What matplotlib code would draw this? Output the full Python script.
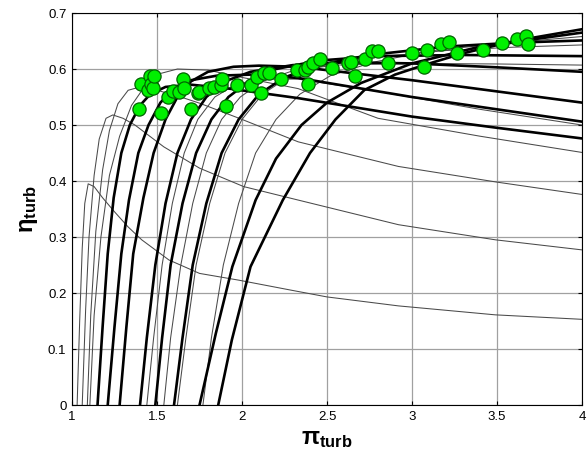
import matplotlib
matplotlib.use("Agg")
import matplotlib.pyplot as plt

plt.rcParams['font.family'] = ['Liberation Sans', 'DejaVu Sans']
plt.rcParams['mathtext.fontset'] = 'custom'
plt.rcParams['mathtext.rm'] = 'Liberation Sans'
plt.rcParams['mathtext.bf'] = 'Liberation Sans:bold'
plt.rcParams['mathtext.it'] = 'Liberation Sans:italic'

# ---- thin (gray) speed lines ----
A_X = [1.03, 1.045, 1.06, 1.075, 1.095, 1.13, 1.18, 1.25, 1.33, 1.41, 1.57, 1.75, 1.98, 2.29, 2.50, 2.92, 3.49, 4.0]
A_Y = [0.0, 0.15, 0.28, 0.36, 0.395, 0.39, 0.37, 0.345, 0.318, 0.295, 0.259, 0.235, 0.223, 0.205, 0.193, 0.177, 0.161, 0.153]
B_X = [1.06, 1.08, 1.10, 1.13, 1.16, 1.20, 1.24, 1.30, 1.37, 1.54, 1.75, 2.01, 2.33, 2.92, 3.49, 4.0]
B_Y = [0.0, 0.17, 0.30, 0.41, 0.475, 0.512, 0.518, 0.512, 0.50, 0.461, 0.423, 0.39, 0.366, 0.322, 0.295, 0.277]
C_X = [1.09, 1.11, 1.14, 1.18, 1.22, 1.27, 1.33, 1.40, 1.50, 1.62, 1.75, 2.0, 2.33, 2.92, 3.5, 4.0]
C_Y = [0.0, 0.16, 0.31, 0.42, 0.49, 0.538, 0.562, 0.568, 0.562, 0.552, 0.539, 0.51, 0.47, 0.426, 0.398, 0.376]
D_X = [1.105, 1.13, 1.17, 1.22, 1.28, 1.35, 1.43, 1.52, 1.62, 1.8, 2.0, 2.33, 2.8, 3.4, 4.0]
D_Y = [0.0, 0.16, 0.30, 0.41, 0.48, 0.535, 0.57, 0.592, 0.60, 0.598, 0.585, 0.565, 0.512, 0.48, 0.451]
E_X = [1.44, 1.48, 1.53, 1.59, 1.66, 1.74, 1.84, 1.96, 2.1, 2.33, 2.8, 3.4, 4.0]
E_Y = [0.0, 0.12, 0.25, 0.36, 0.45, 0.51, 0.55, 0.572, 0.582, 0.582, 0.56, 0.528, 0.500]
F_X = [1.54, 1.58, 1.64, 1.71, 1.79, 1.88, 1.99, 2.12, 2.3, 2.55, 3.0, 3.5, 4.0]
F_Y = [0.0, 0.12, 0.25, 0.36, 0.45, 0.51, 0.55, 0.578, 0.597, 0.607, 0.61, 0.609, 0.607]
G_X = [1.62, 1.67, 1.73, 1.81, 1.90, 2.0, 2.12, 2.27, 2.47, 2.75, 3.2, 3.6, 4.0]
G_Y = [0.0, 0.12, 0.25, 0.36, 0.45, 0.51, 0.555, 0.585, 0.605, 0.62, 0.633, 0.639, 0.643]
H_X = [1.77, 1.82, 1.89, 1.98, 2.08, 2.2, 2.34, 2.52, 2.77, 3.1, 3.5, 4.0]
H_Y = [0.0, 0.12, 0.25, 0.36, 0.45, 0.51, 0.555, 0.588, 0.612, 0.632, 0.645, 0.658]

# ---- thick (black) speed lines ----
T1_X = [1.15, 1.18, 1.21, 1.245, 1.29, 1.34, 1.40, 1.46, 1.55, 1.7, 1.9, 2.33, 3.0, 3.5, 4.0]
T1_Y = [0.0, 0.14, 0.27, 0.37, 0.45, 0.50, 0.535, 0.555, 0.568, 0.572, 0.566, 0.548, 0.515, 0.495, 0.476]
T2_X = [1.21, 1.25, 1.29, 1.335, 1.39, 1.45, 1.52, 1.60, 1.7, 1.85, 2.05, 2.33, 3.0, 3.5, 4.0]
T2_Y = [0.0, 0.14, 0.27, 0.366, 0.45, 0.50, 0.54, 0.565, 0.58, 0.588, 0.59, 0.584, 0.55, 0.528, 0.506]
T3_X = [1.28, 1.32, 1.36, 1.42, 1.48, 1.55, 1.62, 1.70, 1.8, 1.95, 2.1, 2.33, 3.0, 3.5, 4.0]
T3_Y = [0.0, 0.14, 0.27, 0.37, 0.45, 0.51, 0.55, 0.578, 0.595, 0.604, 0.606, 0.604, 0.58, 0.56, 0.54]
T4_X = [1.40, 1.44, 1.49, 1.55, 1.62, 1.70, 1.79, 1.9, 2.05, 2.3, 2.6, 3.0, 3.5, 4.0]
T4_Y = [0.0, 0.12, 0.25, 0.36, 0.45, 0.51, 0.55, 0.578, 0.595, 0.607, 0.612, 0.61, 0.603, 0.595]
T5_X = [1.49, 1.53, 1.58, 1.65, 1.73, 1.82, 1.92, 2.05, 2.2, 2.45, 2.8, 3.3, 4.0]
T5_Y = [0.0, 0.12, 0.25, 0.36, 0.45, 0.51, 0.55, 0.58, 0.60, 0.615, 0.623, 0.625, 0.623]
T6_X = [1.60, 1.65, 1.71, 1.79, 1.88, 1.98, 2.1, 2.25, 2.45, 2.75, 3.2, 3.6, 4.0]
T6_Y = [0.0, 0.12, 0.25, 0.36, 0.45, 0.51, 0.555, 0.585, 0.607, 0.625, 0.64, 0.647, 0.651]
T7_X = [1.75, 1.846, 1.943, 2.08, 2.2, 2.35, 2.5, 2.7, 3.0, 3.4, 4.0]
T7_Y = [0.0, 0.128, 0.247, 0.366, 0.44, 0.50, 0.54, 0.575, 0.61, 0.64, 0.665]
T8_X = [1.86, 1.94, 2.05, 2.24, 2.40, 2.55, 2.72, 2.9, 3.07, 3.3, 3.6, 4.0]
T8_Y = [0.0, 0.116, 0.247, 0.366, 0.45, 0.51, 0.5625, 0.59, 0.607, 0.628, 0.65, 0.671]

# ---- operating points (green markers) ----
MK_X = [1.392, 1.408, 1.446, 1.456, 1.466, 1.475, 1.480, 1.524, 1.563, 1.593, 1.632, 1.651,
        1.661, 1.700, 1.739, 1.749, 1.807, 1.836, 1.875, 1.885, 1.905, 1.973, 2.051, 2.09,
        2.109, 2.129, 2.158, 2.232, 2.323, 2.372, 2.386, 2.39, 2.42, 2.46, 2.528, 2.622,
        2.641, 2.665, 2.723, 2.766, 2.80, 2.86, 3.0, 3.07, 3.09, 3.171, 3.22, 3.265,
        3.415, 3.532, 3.62, 3.668, 3.682]
MK_Y = [0.528, 0.574, 0.5625, 0.5875, 0.574, 0.5655, 0.5875, 0.522, 0.5505, 0.561, 0.5595, 0.5815,
        0.5655, 0.528, 0.5565, 0.5595, 0.5655, 0.568, 0.571, 0.5815, 0.534, 0.571, 0.571, 0.586,
        0.558, 0.592, 0.593, 0.5815, 0.598, 0.599, 0.574, 0.604, 0.611, 0.617, 0.602, 0.611,
        0.612, 0.5875, 0.617, 0.633, 0.633, 0.610, 0.629, 0.604, 0.634, 0.644, 0.649, 0.628,
        0.634, 0.646, 0.653, 0.659, 0.644]

X_TICKS = [1, 1.5, 2, 2.5, 3, 3.5, 4]
X_TICK_LABELS = ['1', '1.5', '2', '2.5', '3', '3.5', '4']
Y_TICKS = [0, 0.1, 0.2, 0.3, 0.4, 0.5, 0.6, 0.7]
Y_TICK_LABELS = ['0', '0.1', '0.2', '0.3', '0.4', '0.5', '0.6', '0.7']

thin_curves = [(A_X, A_Y), (B_X, B_Y), (C_X, C_Y), (D_X, D_Y), (E_X, E_Y),
               (F_X, F_Y), (G_X, G_Y), (H_X, H_Y)]
thick_curves = [(T1_X, T1_Y), (T2_X, T2_Y), (T3_X, T3_Y), (T4_X, T4_Y),
                (T5_X, T5_Y), (T6_X, T6_Y), (T7_X, T7_Y), (T8_X, T8_Y)]

fig = plt.figure(figsize=(5.87, 4.68), dpi=100)
ax = fig.add_axes([0.1227, 0.1346, 0.8688, 0.8376])

for xs, ys in thin_curves:
    ax.plot(xs, ys, color='#4a4a4a', lw=0.75, zorder=2)
for xs, ys in thick_curves:
    ax.plot(xs, ys, color='black', lw=1.9, zorder=3)

ax.plot(MK_X, MK_Y, linestyle='none', marker='o', ms=9.5,
        markerfacecolor='#00f000', markeredgecolor='#006400', markeredgewidth=0.9, zorder=4)

ax.set_xlim(1, 4)
ax.set_ylim(0, 0.7)
ax.set_xticks(X_TICKS)
ax.set_xticklabels(X_TICK_LABELS)
ax.set_yticks(Y_TICKS)
ax.set_yticklabels(Y_TICK_LABELS)
ax.grid(True, color='#a0a0a0', lw=0.9)
ax.set_axisbelow(True)
ax.tick_params(direction='in', top=True, right=True, length=3, labelsize=9.5, pad=4)
for s in ax.spines.values():
    s.set_linewidth(0.8)

ax.set_xlabel(r'$\mathbf{\pi}_{\mathbf{turb}}$', fontsize=17, labelpad=4)
ax.set_ylabel(r'$\mathbf{\eta}_{\mathbf{turb}}$', fontsize=17, labelpad=6)

fig.savefig('out.png', dpi=100)
